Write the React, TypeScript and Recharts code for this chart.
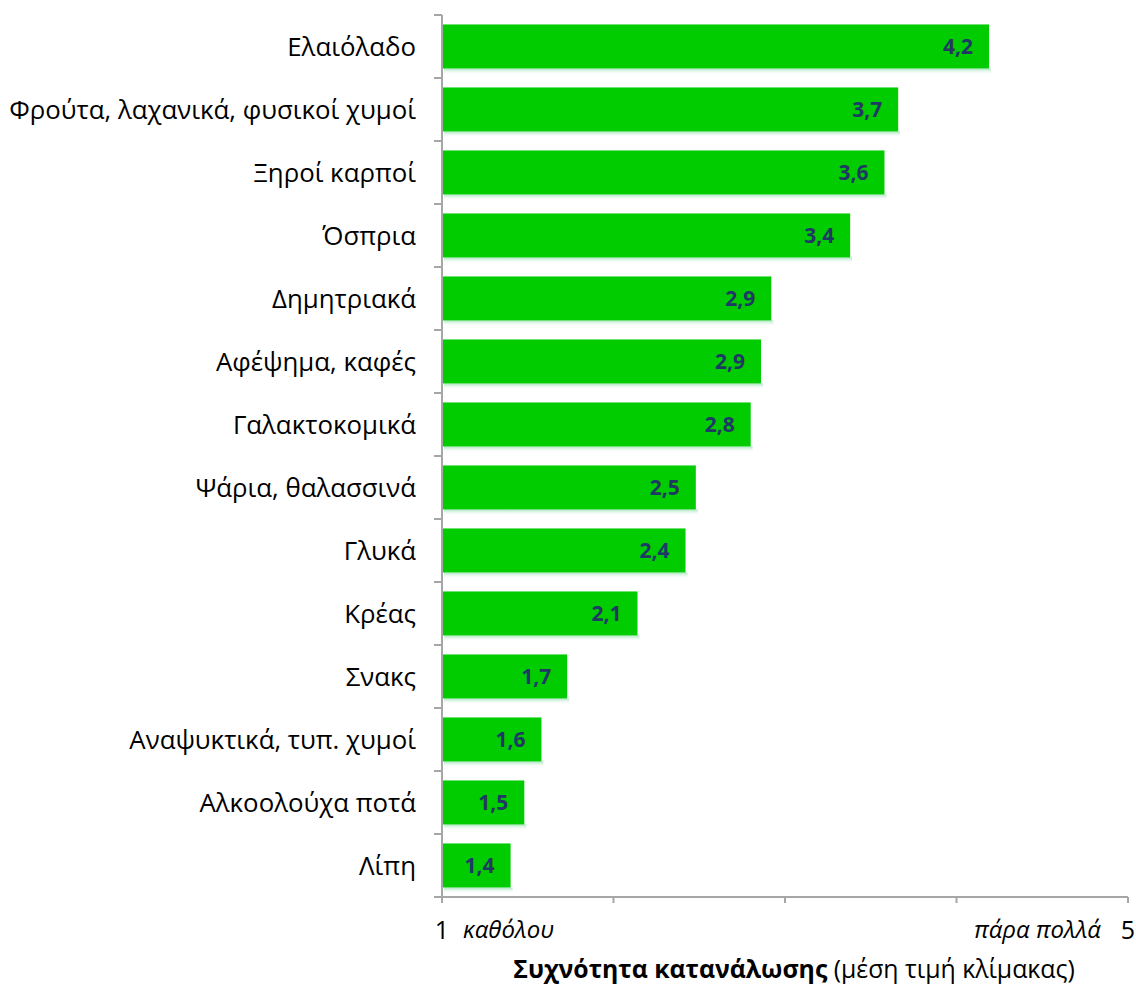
import React from "react";
import { BarChart, Bar, XAxis, YAxis, LabelList, Label } from "recharts";

const categories = [
  "Ελαιόλαδο",
  "Φρούτα, λαχανικά, φυσικοί χυμοί",
  "Ξηροί καρποί",
  "Όσπρια",
  "Δημητριακά",
  "Αφέψημα, καφές",
  "Γαλακτοκομικά",
  "Ψάρια, θαλασσινά",
  "Γλυκά",
  "Κρέας",
  "Σνακς",
  "Αναψυκτικά, τυπ. χυμοί",
  "Αλκοολούχα ποτά",
  "Λίπη",
];
const values = [4.19, 3.66, 3.58, 3.38, 2.92, 2.86, 2.8, 2.48, 2.42, 2.14, 1.73, 1.58, 1.48, 1.4];
const xTicks = [1, 2, 3, 4, 5];
const xLowLabel = "καθόλου";
const xHighLabel = "πάρα πολλά";
const titleBold = "Συχνότητα κατανάλωσης";
const titleRest = " (μέση τιμή κλίμακας)";

const data = categories.map((name, i) => ({ name, value: values[i] }));

const FONT = "'Open Sans', sans-serif";
const AXIS = "#A6A6A6";
const W = 1136;
const H = 985;
const TOP = 15;
const PLOT_BOTTOM = 897;
const BAND = (PLOT_BOTTOM - TOP) / categories.length;

const YTick = (props: any) => {
  const { x, y, payload, index } = props;
  const ax = x + 26;
  return (
    <g>
      <text x={x} y={y} dy={9} textAnchor="end" fontFamily={FONT} fontSize={25.8} fill="#000">
        {payload.value}
      </text>
      <line x1={ax - 8} x2={ax} y1={y - BAND / 2} y2={y - BAND / 2} stroke={AXIS} strokeWidth={2} />
      {index === categories.length - 1 ? (
        <line x1={ax - 8} x2={ax} y1={y + BAND / 2} y2={y + BAND / 2} stroke={AXIS} strokeWidth={2} />
      ) : null}
    </g>
  );
};

const XTick = (props: any) => {
  const { x, y, payload } = props;
  if (payload.value === 1) {
    return (
      <g>
        <text x={x} y={y} dy={22} textAnchor="middle" fontFamily={FONT} fontSize={25} fill="#000">1</text>
        <text x={x + 21} y={y} dy={21} textAnchor="start" fontFamily={FONT} fontSize={24} fontStyle="italic" fill="#000">
          {xLowLabel}
        </text>
      </g>
    );
  }
  if (payload.value === 5) {
    return (
      <g>
        <text x={x} y={y} dy={22} textAnchor="middle" fontFamily={FONT} fontSize={25} fill="#000">5</text>
        <text x={x - 27} y={y} dy={21} textAnchor="end" fontFamily={FONT} fontSize={24} fontStyle="italic" fill="#000">
          {xHighLabel}
        </text>
      </g>
    );
  }
  return <g />;
};

const BarShape = (props: any) => {
  const { x, y, width, height } = props;
  if (!width || width <= 0) return <g />;
  return (
    <g>
      <defs>
        <linearGradient id="shadowGrad" x1="0" y1="0" x2="0" y2="1">
          <stop offset="0%" stopColor="#7FD9A0" stopOpacity={0.7} />
          <stop offset="100%" stopColor="#FFFFFF" stopOpacity={0} />
        </linearGradient>
      </defs>
      <rect x={x + 2} y={y + height} width={width} height={6} fill="url(#shadowGrad)" />
      <rect x={x} y={y} width={width} height={height} fill="#00CC00" />
    </g>
  );
};

const TitleContent = (props: any) => {
  const vb = props.viewBox || {};
  const cx = vb.x + vb.width / 2 + 9;
  return (
    <text x={cx} y={PLOT_BOTTOM + 81} textAnchor="middle" fontFamily={FONT} fontSize={24.8} fill="#000">
      <tspan fontWeight="bold">{titleBold}</tspan>
      <tspan>{titleRest}</tspan>
    </text>
  );
};

export default function App() {
  return (
    <div style={{ position: "absolute", left: 0, top: 0, width: W, height: H, background: "#fff" }}>
      <BarChart
        width={W}
        height={H}
        data={data}
        layout="vertical"
        margin={{ top: TOP, right: 8, bottom: 0, left: 0 }}
        barCategoryGap="15%"
      >
        <XAxis
          type="number"
          domain={[1, 5]}
          ticks={xTicks}
          allowDataOverflow
          height={H - PLOT_BOTTOM}
          axisLine={{ stroke: AXIS, strokeWidth: 2 }}
          tickLine={{ stroke: AXIS, strokeWidth: 2 }}
          tickSize={6}
          tickMargin={14}
          tick={<XTick />}
          interval={0}
        >
          <Label content={<TitleContent />} position="bottom" />
        </XAxis>
        <YAxis
          type="category"
          dataKey="name"
          width={442}
          axisLine={{ stroke: AXIS, strokeWidth: 2 }}
          tickLine={false}
          tickSize={8}
          tickMargin={18}
          tick={<YTick />}
          interval={0}
        />
        <Bar dataKey="value" isAnimationActive={false} shape={<BarShape />}>
          <LabelList
            dataKey="value"
            position="insideRight"
            offset={16}
            fill="#1F3864"
            fontFamily={FONT}
            fontWeight="bold"
            fontSize={21}
            formatter={(v: any) => Number(v).toFixed(1).replace(".", ",")}
          />
        </Bar>
      </BarChart>
    </div>
  );
}
